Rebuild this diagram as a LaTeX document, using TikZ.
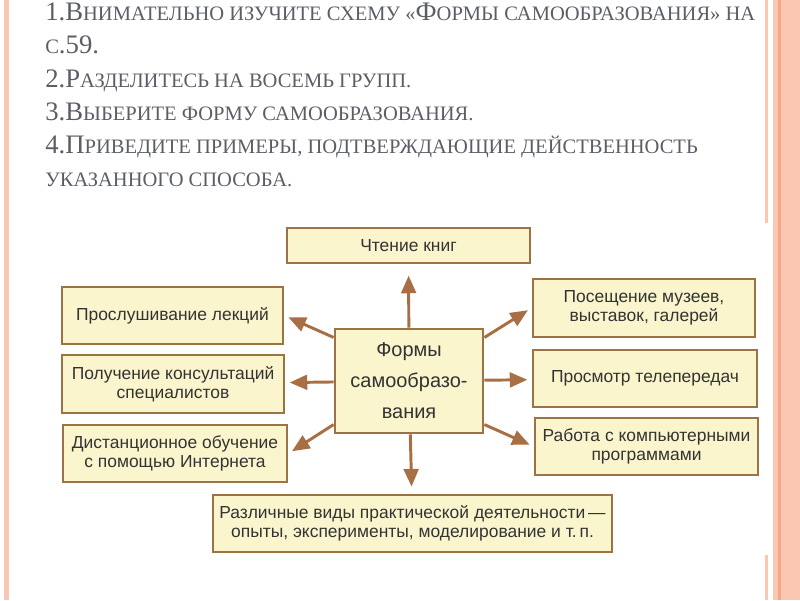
\documentclass[tikz,border=0pt]{standalone}
\usepackage{fontspec}
\setmainfont{Liberation Serif}
\setsansfont{Liberation Sans}
\usetikzlibrary{arrows.meta}
\definecolor{boxfill}{HTML}{FAF5CC}
\definecolor{boxline}{HTML}{9C7444}
\definecolor{arrowbrown}{HTML}{A86F45}
\definecolor{titlegray}{HTML}{5A5E66}
\definecolor{stripe}{HTML}{FBC6B2}
\definecolor{stripedark}{HTML}{F2A888}
\newcommand\smc[1]{{\fontsize{14.6}{14.6}\selectfont #1}}

\begin{document}
\begin{tikzpicture}[x=0.025cm, y=-0.025cm,
        box/.style={draw=boxline, line width=2pt, fill=boxfill, rectangle, align=center, inner sep=2pt,
            font=\sffamily\fontsize{12.4}{13.4}\selectfont, text=black!80},
        arrow/.style={-{Triangle[length=12.5pt, width=10.5pt]}, draw=arrowbrown, fill=arrowbrown, line width=2.1pt, shorten >=3pt}
    ]
        \useasboundingbox (0,0) rectangle (800,600);
        % Page stripes
        \fill[stripe] (3.5,0) rectangle (8.5,600);
        \fill[stripe] (765,0) rectangle (768,223);
        \fill[stripe] (765,555) rectangle (768,600);
        \fill[stripe] (773,0) rectangle (800,600);
        \fill[stripedark] (778,0) rectangle (781,600);

        % Task
        \node[anchor=north west, align=left, text=titlegray, inner sep=0pt,
            font=\fontsize{19}{23.5}\selectfont] (task) at (45,3)
            {1.В\smc{НИМАТЕЛЬНО ИЗУЧИТЕ СХЕМУ «}Ф\smc{ОРМЫ САМООБРАЗОВАНИЯ» НА}\\
             \smc{С}.59.\\
             2.Р\smc{АЗДЕЛИТЕСЬ НА ВОСЕМЬ ГРУПП.}\\
             3.В\smc{ЫБЕРИТЕ ФОРМУ САМООБРАЗОВАНИЯ.}\\
             4.П\smc{РИВЕДИТЕ ПРИМЕРЫ, ПОДТВЕРЖДАЮЩИЕ ДЕЙСТВЕННОСТЬ}\\
             \smc{УКАЗАННОГО СПОСОБА.}};

        % Nodes
        \node[box, minimum width=3.7cm, minimum height=2.6cm, font=\sffamily\fontsize{14.2}{22}\selectfont] (forms) at (409,381) {Формы\\самообразо-\\вания};
        \node[box, minimum width=6.075cm, minimum height=0.875cm] (books) at (408.5,245.5) {Чтение книг};
        \node[box, minimum width=5.525cm, minimum height=1.425cm] (lect) at (172.5,315.5) {Прослушивание лекций};
        \node[box, minimum width=5.55cm, minimum height=1.45cm] (cons) at (173,384) {Получение консультаций\\специалистов};
        \node[box, minimum width=5.6cm, minimum height=1.425cm] (dist) at (175,453.5) {Дистанционное обучение\\с помощью Интернета};
        \node[box, minimum width=9.975cm, minimum height=1.425cm] (practice) at (412.5,523.5) {Различные виды практической деятельности\,---\\опыты, эксперименты, моделирование и т.\,п.};
        \node[box, minimum width=5.55cm, minimum height=1.45cm] (mus) at (644,308) {Посещение музеев,\\выставок, галерей};
        \node[box, minimum width=5.6cm, minimum height=1.425cm] (tv) at (645,378.5) {Просмотр телепередач};
        \node[box, minimum width=5.575cm, minimum height=1.425cm] (comp) at (646.5,446.5) {Работа с компьютерными\\программами};

        % Arrows
        \draw[arrow, shorten >=8pt] (forms) -- (books);
        \draw[arrow] (forms.150) -- (lect.east);
        \draw[arrow] (forms) -- (cons);
        \draw[arrow] (forms.210) -- (dist.east);
        \draw[arrow, shorten >=5pt] (forms) -- (practice);
        \draw[arrow] (forms.30) -- (mus.west);
        \draw[arrow] (forms) -- (tv);
        \draw[arrow] (forms.-30) -- (comp.west);
    \end{tikzpicture}
\end{document}
